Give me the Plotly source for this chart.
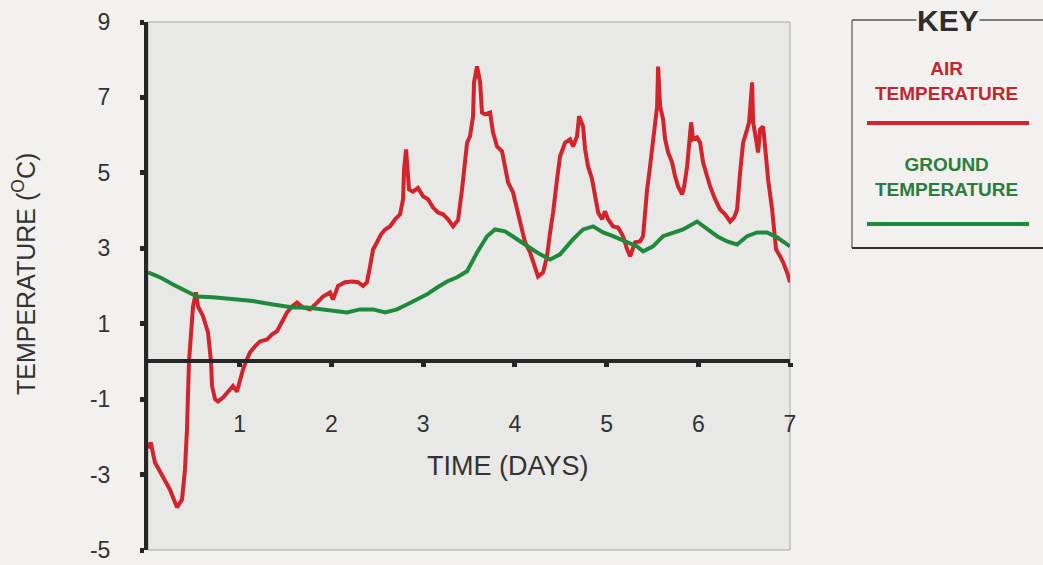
import plotly.graph_objects as go

# ---- data ----
air_day = [0.0, 0.03, 0.076, 0.131, 0.24, 0.316, 0.371, 0.403, 0.425, 0.447, 0.469, 0.491, 0.523,
           0.545, 0.6, 0.654, 0.687, 0.698, 0.731, 0.763, 0.818, 0.872, 0.927, 0.97, 1.003, 1.036,
           1.069, 1.112, 1.167, 1.221, 1.298, 1.352, 1.407, 1.461, 1.516, 1.57, 1.625, 1.69, 1.767,
           1.843, 1.908, 1.985, 2.017, 2.072, 2.148, 2.225, 2.29, 2.345, 2.388, 2.421, 2.454, 2.497,
           2.541, 2.585, 2.639, 2.694, 2.748, 2.781, 2.792, 2.814, 2.835, 2.846, 2.89, 2.944, 2.999,
           3.053, 3.108, 3.162, 3.217, 3.272, 3.326, 3.381, 3.424, 3.446, 3.479, 3.511, 3.544, 3.555,
           3.588, 3.621, 3.642, 3.675, 3.73, 3.762, 3.806, 3.86, 3.893, 3.926, 3.98, 4.024, 4.078,
           4.111, 4.166, 4.22, 4.253, 4.308, 4.351, 4.384, 4.417, 4.46, 4.493, 4.547, 4.602, 4.635,
           4.678, 4.7, 4.744, 4.766, 4.798, 4.842, 4.875, 4.908, 4.951, 4.984, 5.016, 5.071, 5.125,
           5.18, 5.224, 5.257, 5.311, 5.365, 5.398, 5.42, 5.442, 5.474, 5.507, 5.529, 5.551, 5.562,
           5.584, 5.616, 5.638, 5.671, 5.714, 5.747, 5.78, 5.824, 5.846, 5.878, 5.9, 5.922, 5.943,
           5.987, 6.02, 6.052, 6.096, 6.129, 6.183, 6.238, 6.292, 6.347, 6.391, 6.423, 6.456, 6.489,
           6.532, 6.554, 6.587, 6.598, 6.63, 6.652, 6.674, 6.707, 6.728, 6.761, 6.805, 6.827, 6.848,
           6.892, 6.925, 6.968, 7.0]
air_temp = [-2.3, -2.15, -2.68, -2.94, -3.4, -3.87, -3.66, -2.87, -1.8, 0.0, 0.93, 1.46, 1.83,
            1.46, 1.2, 0.77, 0.0, -0.65, -1.0, -1.06, -0.96, -0.8, -0.65, -0.8, -0.48, -0.21,
            0.0, 0.24, 0.4, 0.53, 0.58, 0.72, 0.8, 1.03, 1.3, 1.46, 1.56, 1.43, 1.38,
            1.56, 1.72, 1.83, 1.64, 2.0, 2.1, 2.12, 2.1, 2.0, 2.1, 2.52, 2.97, 3.16,
            3.37, 3.5, 3.58, 3.77, 3.9, 4.3, 5.09, 5.62, 5.09, 4.56, 4.5, 4.6, 4.38,
            4.3, 4.08, 3.95, 3.9, 3.77, 3.58, 3.75, 4.56, 5.17, 5.8, 5.97, 6.5, 7.4,
            7.82, 7.4, 6.6, 6.55, 6.6, 6.07, 5.7, 5.57, 5.17, 4.75, 4.48, 4.03, 3.5,
            3.16, 2.89, 2.44, 2.25, 2.36, 2.79, 3.42, 3.95, 4.83, 5.44, 5.8, 5.89, 5.7,
            5.97, 6.5, 6.23, 5.62, 5.17, 4.83, 4.38, 3.95, 3.77, 3.98, 3.77, 3.58, 3.55,
            3.32, 2.97, 2.79, 3.16, 3.18, 3.32, 3.95, 4.56, 5.17, 5.89, 6.23, 6.76, 7.82,
            6.76, 6.42, 5.89, 5.54, 5.28, 4.91, 4.64, 4.43, 4.64, 5.17, 5.7, 6.34, 5.89,
            5.94, 5.8, 5.28, 4.91, 4.64, 4.3, 4.03, 3.9, 3.71, 3.82, 4.03, 5.01, 5.8,
            6.15, 6.34, 7.4, 6.34, 5.89, 5.54, 6.15, 6.23, 5.7, 4.83, 4.03, 3.42, 2.97,
            2.79, 2.63, 2.36, 2.1]

ground_day = [0.0, 0.131, 0.273, 0.425, 0.534, 0.709, 0.927, 1.145, 1.363, 1.581, 1.734, 1.876,
              2.017, 2.17, 2.312, 2.454, 2.585, 2.715, 2.824, 2.933, 3.043, 3.152, 3.261, 3.37,
              3.479, 3.588, 3.697, 3.784, 3.893, 4.024, 4.133, 4.242, 4.384, 4.493, 4.635, 4.744,
              4.853, 4.962, 5.071, 5.224, 5.333, 5.398, 5.507, 5.616, 5.725, 5.834, 5.987, 6.096,
              6.205, 6.314, 6.423, 6.532, 6.641, 6.75, 6.859, 7.0]
ground_temp = [2.36, 2.23, 2.04, 1.86, 1.72, 1.7, 1.64, 1.6, 1.51, 1.43, 1.43, 1.38,
               1.33, 1.3, 1.38, 1.38, 1.3, 1.38, 1.51, 1.64, 1.78, 1.96, 2.12, 2.23,
               2.39, 2.89, 3.32, 3.5, 3.45, 3.24, 3.05, 2.89, 2.7, 2.84, 3.24, 3.5,
               3.58, 3.42, 3.32, 3.16, 3.05, 2.92, 3.05, 3.32, 3.42, 3.5, 3.71, 3.5,
               3.32, 3.18, 3.1, 3.32, 3.42, 3.42, 3.29, 3.05]

x_ticks = [1, 2, 3, 4, 5, 6, 7]
y_ticks = [-5, -3, -1, 1, 3, 5, 7, 9]

# ---- style ----
RED = "#d3232b"
GREEN = "#1f8a3c"
AXIS = "#262626"
TEXT = "#333333"
PAPER = "#f2f1ef"
PLOT = "#e8e8e7"
FONT = "Liberation Sans, Arial, sans-serif"

fig = go.Figure()
fig.add_trace(go.Scatter(x=air_day, y=air_temp, mode="lines", name="AIR TEMPERATURE",
                         line=dict(color=RED, width=4)))
fig.add_trace(go.Scatter(x=ground_day, y=ground_temp, mode="lines", name="GROUND TEMPERATURE",
                         line=dict(color=GREEN, width=4)))

fig.update_layout(
    width=1043, height=565,
    margin=dict(l=148, r=253, t=22, b=15, autoexpand=False),
    paper_bgcolor=PAPER, plot_bgcolor=PLOT,
    showlegend=False,
    font=dict(family=FONT, color=TEXT),
    xaxis=dict(range=[0, 7], anchor="free", position=5 / 14, automargin=False,
               showline=True, linecolor=AXIS, linewidth=4,
               ticks="outside", tickcolor=AXIS, tickwidth=5, ticklen=4,
               tickvals=x_ticks, ticktext=[str(v) for v in x_ticks],
               ticklabelstandoff=37, tickfont=dict(size=23, color=TEXT),
               showgrid=False, zeroline=False),
    yaxis=dict(range=[-5, 9], automargin=False, showline=True, linecolor=AXIS, linewidth=4,
               ticks="outside", tickcolor=AXIS, tickwidth=5, ticklen=4,
               tickvals=y_ticks, ticktext=[str(v) for v in y_ticks],
               ticklabelstandoff=25, tickfont=dict(size=23, color=TEXT),
               showgrid=False, zeroline=False),
)

# thin border of the plot area
fig.add_shape(type="rect", xref="x domain", yref="y domain", x0=0, x1=1, y0=0, y1=1,
              line=dict(color="#a8a8a8", width=1), layer="below")


def px(xp):
    return (xp - 148) / 642


def py(yp):
    return (550 - yp) / 528


def label(text, x, y, size, color, **kw):
    fig.add_annotation(text=text, xref="paper", yref="paper", x=x, y=y,
                       xanchor="center", yanchor="middle", showarrow=False,
                       font=dict(size=size, color=color), **kw)


# axis titles
label("TIME (DAYS)", px(508), py(466), 27, TEXT)
label("TEMPERATURE (<sup>O</sup>C)", px(24), py(274), 25, TEXT, textangle=-90)

# ---- KEY box ----
fig.add_shape(type="line", xref="paper", yref="paper", x0=px(852), x1=px(1060), y0=py(20), y1=py(20),
              line=dict(color="#555", width=1.5))
fig.add_shape(type="line", xref="paper", yref="paper", x0=px(852), x1=px(852), y0=py(20), y1=py(248),
              line=dict(color="#777", width=1.5))
fig.add_shape(type="line", xref="paper", yref="paper", x0=px(852), x1=px(1060), y0=py(248), y1=py(248),
              line=dict(color="#333", width=2))
label("<b>KEY</b>", px(948), py(21), 30, "#2e2e2e", bgcolor=PAPER, borderpad=0)
label("<b>AIR<br>TEMPERATURE</b>", px(946), py(81), 19, "#c4262e")
fig.add_shape(type="line", xref="paper", yref="paper", x0=px(867), x1=px(1029), y0=py(123), y1=py(123),
              line=dict(color=RED, width=4))
label("<b>GROUND<br>TEMPERATURE</b>", px(946), py(177), 19, "#2a7d3c")
fig.add_shape(type="line", xref="paper", yref="paper", x0=px(867), x1=px(1029), y0=py(224), y1=py(224),
              line=dict(color=GREEN, width=4))

fig.write_html("out.html", config={"displayModeBar": False},
               post_script="document.body.style.margin='0';")
